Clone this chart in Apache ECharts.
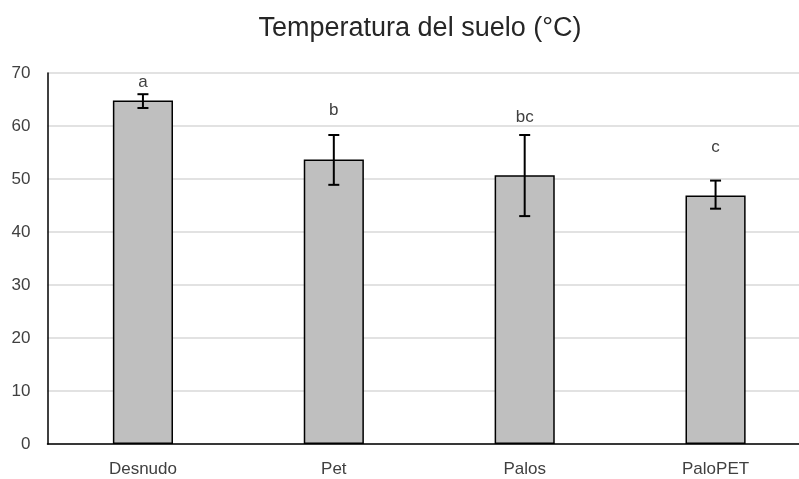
<!DOCTYPE html>
<html><head><meta charset="utf-8">
<script src="https://cdn.jsdelivr.net/npm/echarts@6/dist/echarts.min.js"></script>
<style>html,body{margin:0;padding:0;background:#fff}#c{width:799px;height:479px}</style>
</head><body><div id="c"></div>
<script>
var categories = ['Desnudo', 'Pet', 'Palos', 'PaloPET'];
var means = [64.8, 53.7, 50.7, 46.9];
var errLow = [63.4, 48.9, 43.0, 44.4];
var errHigh = [66.0, 58.3, 58.3, 49.7];
var letters = ['a', 'b', 'bc', 'c'];
var letterY = [68.3, 62.9, 61.7, 55.9];

var chart = echarts.init(document.getElementById('c'));
var font = '"Liberation Sans", Arial, sans-serif';
chart.setOption({
  animation: false,
  title: {
    text: 'Temperatura del suelo (°C)', left: 415, top: 10, textAlign: 'center',
    textStyle: { fontFamily: font, fontSize: 27, fontWeight: 'normal', color: '#262626' }
  },
  grid: { left: 47.5, width: 763.5, top: 73, bottom: 35, containLabel: false, outerBoundsMode: 'none' },
  xAxis: {
    type: 'category', data: categories,
    axisLine: { lineStyle: { color: '#000', width: 1.5 } },
    axisTick: { show: false },
    axisLabel: { fontFamily: font, fontSize: 17, color: '#404040', margin: 17 }
  },
  yAxis: {
    type: 'value', min: 0, max: 70, interval: 10,
    axisLine: { show: true, lineStyle: { color: '#000', width: 1.5 } },
    axisTick: { show: false },
    splitLine: { lineStyle: { color: '#d9d9d9', width: 1.5 } },
    axisLabel: { fontFamily: font, fontSize: 17, color: '#404040', margin: 17 }
  },
  series: [
    {
      type: 'bar', data: means, barWidth: '31.5%',
      itemStyle: { color: '#bfbfbf', borderColor: '#000', borderWidth: 1.5 }
    },
    {
      type: 'custom', z: 10,
      data: categories.map(function (c, i) { return [i, errLow[i], errHigh[i]]; }),
      renderItem: function (params, api) {
        var lo = api.coord([api.value(0), api.value(1)]);
        var hi = api.coord([api.value(0), api.value(2)]);
        var w = 5.5;
        var st = { stroke: '#000', lineWidth: 2 };
        return { type: 'group', children: [
          { type: 'line', shape: { x1: hi[0], y1: hi[1], x2: lo[0], y2: lo[1] }, style: st },
          { type: 'line', shape: { x1: hi[0] - w, y1: hi[1], x2: hi[0] + w, y2: hi[1] }, style: st },
          { type: 'line', shape: { x1: lo[0] - w, y1: lo[1], x2: lo[0] + w, y2: lo[1] }, style: st }
        ]};
      }
    },
    {
      type: 'custom', z: 11,
      data: categories.map(function (c, i) { return [i, letterY[i]]; }),
      renderItem: function (params, api) {
        var p = api.coord([api.value(0), api.value(1)]);
        return { type: 'text', x: p[0], y: p[1], style: {
          text: letters[params.dataIndex], fontFamily: font, fontSize: 17, fill: '#404040',
          textAlign: 'center', textVerticalAlign: 'middle' } };
      }
    }
  ]
});
</script></body></html>
